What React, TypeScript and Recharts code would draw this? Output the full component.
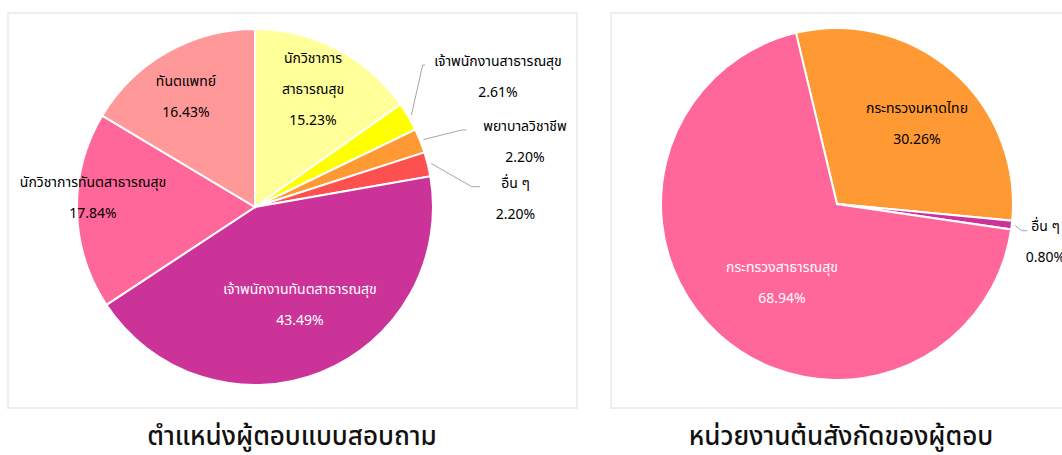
import React from 'react';
import { PieChart, Pie, Cell } from 'recharts';

// ---------- Data ----------
const positionNames = [
  'นักวิชาการสาธารณสุข',
  'เจ้าพนักงานสาธารณสุข',
  'พยาบาลวิชาชีพ',
  'อื่น ๆ',
  'เจ้าพนักงานทันตสาธารณสุข',
  'นักวิชาการทันตสาธารณสุข',
  'ทันตแพทย์',
];
const positionLabelLines = [
  ['นักวิชาการ', 'สาธารณสุข'],
  ['เจ้าพนักงานสาธารณสุข'],
  ['พยาบาลวิชาชีพ'],
  ['อื่น ๆ'],
  ['เจ้าพนักงานทันตสาธารณสุข'],
  ['นักวิชาการทันตสาธารณสุข'],
  ['ทันตแพทย์'],
];
const positionValues = [15.23, 2.61, 2.2, 2.2, 43.49, 17.84, 16.43];

const agencyNames = ['กระทรวงมหาดไทย', 'อื่น ๆ', 'กระทรวงสาธารณสุข'];
const agencyValues = [30.26, 0.8, 68.94];

const titles = ['ตำแหน่งผู้ตอบแบบสอบถาม', 'หน่วยงานต้นสังกัดของผู้ตอบ'];

// ---------- Styles ----------
const positionColors = ['#FFFF99', '#FFFF00', '#FF9933', '#FF5050', '#CC3399', '#FF6699', '#FF9999'];
const positionTextColors = ['#000', '#000', '#000', '#000', '#fff', '#000', '#000'];
const agencyColors = ['#FF9933', '#CC3399', '#FF6699'];
const agencyTextColors = ['#000', '#000', '#fff'];

// label layout: text block centre offset from pie centre; optional leader (elbow/end offsets)
type Layout = { dx: number; dy: number; elbow?: [number, number]; endDx?: number };
const positionLayout: Layout[] = [
  { dx: 58, dy: -118 },
  { dx: 243, dy: -130, elbow: [167.7, -142], endDx: 170 },
  { dx: 270, dy: -65, elbow: [206.7, -77], endDx: 211.7 },
  { dx: 260.5, dy: -8, elbow: [216.7, -20.3], endDx: 225 },
  { dx: 45, dy: 98 },
  { dx: -162, dy: -9 },
  { dx: -69, dy: -110 },
];
const agencyLayout: Layout[] = [
  { dx: 80, dy: -80 },
  { dx: 208.5, dy: 38, elbow: [184.7, 26.7], endDx: 190.3 },
  { dx: -55, dy: 79 },
];

const LABEL_FONT = "'Noto Sans Thai', 'Noto Sans', 'DejaVu Sans', sans-serif";
const LINE_GAP = 31;
const RAD = Math.PI / 180;

const positionData = positionNames.map((name, i) => ({ name, value: positionValues[i] }));
const agencyData = agencyNames.map((name, i) => ({ name, value: agencyValues[i] }));

function makeLabel(
  layout: Layout[],
  lines: string[][],
  values: number[],
  textColors: string[]
) {
  return (props: any) => {
    const { cx, cy, midAngle, outerRadius, index } = props;
    const l = layout[index];
    const textLines = [...lines[index], values[index].toFixed(2) + '%'];
    const n = textLines.length;
    const tx = cx + l.dx;
    const ty0 = cy + l.dy - ((n - 1) * LINE_GAP) / 2;
    let leader = null;
    if (l.elbow) {
      const r = outerRadius + 3.5;
      const sx = cx + r * Math.cos(-midAngle * RAD);
      const sy = cy + r * Math.sin(-midAngle * RAD);
      const ex = cx + l.elbow[0];
      const ey = cy + l.elbow[1];
      const fx = cx + (l.endDx as number);
      leader = (
        <polyline
          points={`${sx},${sy} ${ex},${ey} ${fx},${ey}`}
          fill="none"
          stroke="#A6A6A6"
          strokeWidth={1}
        />
      );
    }
    return (
      <g key={`lbl-${index}`}>
        {leader}
        {textLines.map((t, k) => (
          <text
            key={k}
            x={tx}
            y={ty0 + k * LINE_GAP}
            textAnchor="middle"
            dominantBaseline="central"
            fill={textColors[index]}
            fontSize={14}
            fontFamily={LABEL_FONT}
          >
            {t}
          </text>
        ))}
      </g>
    );
  };
}

const panelStyle: React.CSSProperties = {
  position: 'absolute',
  top: 12,
  height: 397,
  border: '2px solid #EEEEEE',
  boxSizing: 'border-box',
  background: '#fff',
};

const titleStyle: React.CSSProperties = {
  position: 'absolute',
  top: 423,
  fontSize: 26,
  fontWeight: 500,
  textAlign: 'center',
  color: '#111',
  fontFamily: "'Noto Sans Thai', 'Noto Sans', 'DejaVu Sans', sans-serif",
  whiteSpace: 'nowrap',
  lineHeight: '28px',
};

export default function App() {
  return (
    <div
      style={{
        position: 'absolute',
        left: 0,
        top: 0,
        width: 1062,
        height: 455,
        overflow: 'hidden',
        background: '#fff',
      }}
    >
      <div style={{ ...panelStyle, left: 7, width: 571 }} />
      <div style={{ ...panelStyle, left: 610, width: 500 }} />
      <div style={{ position: 'absolute', left: 0, top: 0 }}>
        <PieChart width={1062} height={455} margin={{ top: 0, right: 0, bottom: 0, left: 0 }}>
          <Pie
            data={positionData}
            dataKey="value"
            nameKey="name"
            cx={255}
            cy={207}
            outerRadius={178}
            startAngle={90}
            endAngle={-270}
            stroke="#FFFFFF"
            strokeWidth={2}
            isAnimationActive={false}
            labelLine={false}
            label={makeLabel(positionLayout, positionLabelLines, positionValues, positionTextColors)}
          >
            {positionData.map((d, i) => (
              <Cell key={d.name} fill={positionColors[i]} />
            ))}
          </Pie>
          <Pie
            data={agencyData}
            dataKey="value"
            nameKey="name"
            cx={837}
            cy={204}
            outerRadius={176}
            startAngle={103.5}
            endAngle={-256.5}
            stroke="#FFFFFF"
            strokeWidth={2}
            isAnimationActive={false}
            labelLine={false}
            label={makeLabel(
              agencyLayout,
              agencyNames.map((n) => [n]),
              agencyValues,
              agencyTextColors
            )}
          >
            {agencyData.map((d, i) => (
              <Cell key={d.name} fill={agencyColors[i]} />
            ))}
          </Pie>
        </PieChart>
      </div>
      <div style={{ ...titleStyle, left: 0, width: 584 }}>{titles[0]}</div>
      <div style={{ ...titleStyle, left: 620, width: 442 }}>{titles[1]}</div>
    </div>
  );
}
